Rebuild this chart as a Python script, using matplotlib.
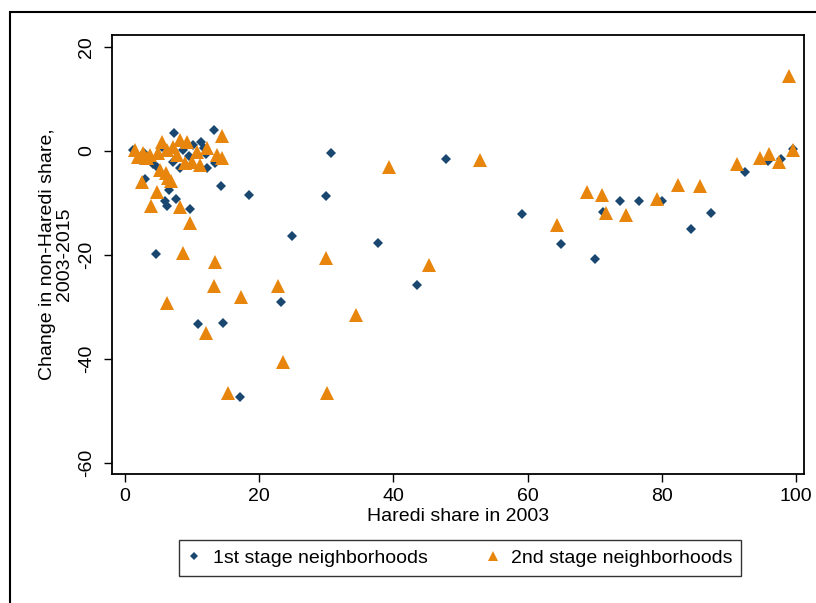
import matplotlib
matplotlib.use("Agg")
import matplotlib.pyplot as plt
from matplotlib.patches import Rectangle

# 1st stage neighborhoods (diamonds)
first_x = [59.2, 65.0, 70.0, 71.3, 73.8, 76.6, 80.0, 84.4, 87.3, 92.4, 95.8, 97.8, 99.6,
           30.7, 47.8, 30.0, 24.9, 37.7, 43.5, 23.2,
           4.6, 10.9, 14.6, 17.1, 18.5,
           7.3, 13.3, 14.3, 6.6, 7.6, 6.0, 6.3, 9.7, 3.0, 4.2, 11.3, 10.1, 8.6,
           7.2, 8.2, 12.2, 13.4, 12.1, 1.2, 2.2, 5.5, 4.8, 2.8, 9.5, 11.8]
first_y = [-12.1, -17.9, -20.8, -11.7, -9.6, -9.6, -9.6, -15.0, -11.9, -4.0, -1.9, -1.5, 0.4,
           -0.4, -1.5, -8.7, -16.3, -17.7, -25.8, -29.0,
           -19.8, -33.3, -33.1, -47.3, -8.5,
           3.5, 4.0, -6.7, -7.5, -9.2, -9.6, -10.6, -11.2, -5.4, -2.5, 1.7, 1.2, 0.2,
           -2.1, -3.2, -3.2, -2.3, -0.6, 0.2, -1.7, 0.8, -3.0, -0.3, -1.0, 0.5]

# 2nd stage neighborhoods (triangles)
second_x = [98.95, 99.6, 97.5, 96.0, 94.6, 91.2, 85.7, 82.4, 79.3, 74.7, 71.7, 71.1, 68.9, 64.4,
            39.3, 52.9, 30.0, 45.3, 22.8, 34.4,
            3.9, 8.2, 9.7, 8.6, 13.4, 13.3, 17.3, 6.3, 12.1, 23.5, 15.4, 30.1,
            14.5, 5.5, 8.2, 9.2, 7.2, 12.2, 13.7, 14.5, 1.5, 2.7, 3.7, 4.9, 6.3,
            7.8, 10.7, 10.0, 8.9, 11.2, 5.2, 6.1, 6.4, 6.9, 2.5, 4.8, 1.9, 3.3]
second_y = [14.4, 0.2, -2.1, -0.5, -1.4, -2.5, -6.7, -6.5, -9.2, -12.3, -12.0, -8.5, -7.9, -14.2,
            -3.1, -1.7, -20.6, -21.9, -26.0, -31.5,
            -10.5, -10.7, -13.8, -19.7, -21.3, -26.0, -28.0, -29.2, -35.0, -40.6, -46.6, -46.6,
            2.9, 1.7, 2.1, 1.7, 0.8, 0.6, -0.8, -1.3, 0.2, -0.4, -0.8, -0.4, 0.2,
            -0.8, -0.2, -2.1, -2.3, -2.7, -3.7, -4.2, -5.2, -5.8, -6.0, -7.9, -1.2, -1.3]

x_ticks = [0, 20, 40, 60, 80, 100]
y_ticks = [-60, -40, -20, 0, 20]

NAVY = "#1a476f"
ORANGE = "#e8850c"

plt.rcParams['font.family'] = ['Liberation Sans', 'DejaVu Sans']
plt.rcParams['axes.unicode_minus'] = False

fig = plt.figure(figsize=(8.16, 6.03), dpi=100)
ax = fig.add_axes([112 / 816, 1 - 474 / 603, 692 / 816, 439 / 603])

ax.plot(first_x, first_y, linestyle="none", marker="D", markersize=5.5,
        color=NAVY, markeredgewidth=0, label="1st stage neighborhoods")
ax.plot(second_x, second_y, linestyle="none", marker="^", markersize=9.5,
        color=ORANGE, markeredgewidth=0, label="2nd stage neighborhoods")

ax.set_xlim(-1.94, 101.2)
ax.set_ylim(-62.1, 22.3)
ax.set_xticks(x_ticks)
ax.set_yticks(y_ticks)
ax.tick_params(axis="both", direction="out", length=6, width=1, labelsize=14, pad=4)
ax.tick_params(axis="y", pad=6)
for lab in ax.get_yticklabels():
    lab.set_rotation(90)
    lab.set_va("center")
for s in ax.spines.values():
    s.set_linewidth(1.3)

ax.set_xlabel("Haredi share in 2003", fontsize=14, labelpad=2)
ax.set_ylabel("Change in non-Haredi share,\n2003-2015", fontsize=14, labelpad=4,
              linespacing=0.95)

leg = fig.legend(loc="center", bbox_to_anchor=(460 / 816, 1 - 558 / 603), ncol=2,
                 fontsize=14, frameon=True, fancybox=False, edgecolor="black",
                 handlelength=0.7, handletextpad=0.6, columnspacing=3.0,
                 borderpad=0.45, markerscale=0.7)
leg.get_frame().set_linewidth(1.0)

# outer frame of the cropped graph region
fig.patches.append(Rectangle((10 / 816, -0.2), 1.2, 1.2 - 12 / 603,
                             transform=fig.transFigure, fill=False,
                             edgecolor="black", linewidth=1.5, clip_on=False))

fig.savefig("out.png", dpi=100)
